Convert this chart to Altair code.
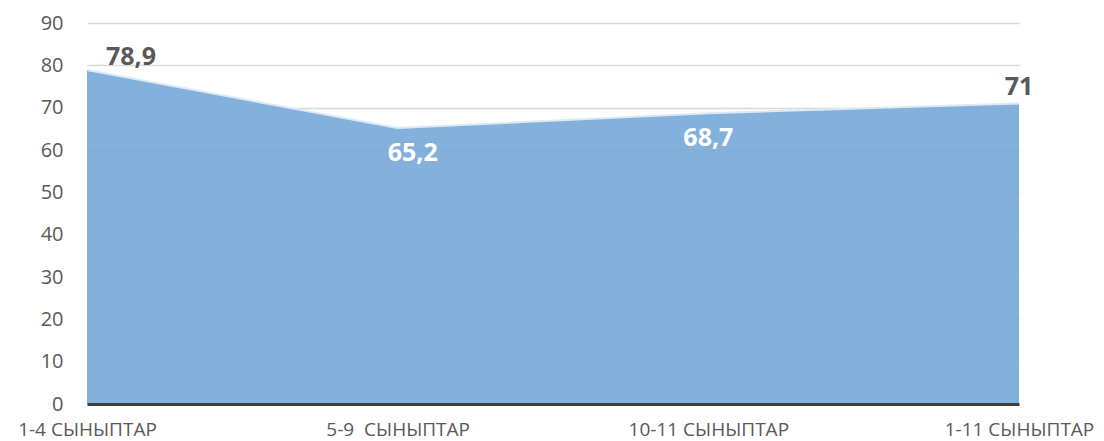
import altair as alt
import pandas as pd

categories = ["1-4 СЫНЫПТАР", "5-9\u00a0 СЫНЫПТАР", "10-11 СЫНЫПТАР", "1-11 СЫНЫПТАР"]
values = [78.9, 65.2, 68.7, 71]
labels = ["78,9", "65,2", "68,7", "71"]

df = pd.DataFrame({"cat": categories, "val": values, "lab": labels})

FONT = "Open Sans"

x_enc = alt.X("cat:N", sort=categories,
              scale=alt.Scale(type="point", padding=0),
              axis=alt.Axis(title=None, labelAngle=0, labelFontSize=19, labelColor="#595959",
                            labelFont=FONT, labelPadding=16, ticks=False, domain=True,
                            domainColor="#404040", domainWidth=3, zindex=1, grid=False))
y_enc = alt.Y("val:Q", scale=alt.Scale(domain=[0, 90], nice=False),
              axis=alt.Axis(title=None, values=list(range(0, 91, 10)), labelFontSize=20,
                            labelColor="#595959", labelFont=FONT, labelPadding=24,
                            ticks=False, domain=False, gridColor="#d9d9d9", gridWidth=1.5))

base = alt.Chart(df)

area = base.mark_area(color="#75a8d8", opacity=0.9,
                      line=alt.LineConfig(color="#dceaf7", strokeWidth=2)).encode(x=x_enc, y=y_enc)

offsets = [(44, -13, "#595959"), (15, 25, "#ffffff"), (0, 25, "#ffffff"), (0, -16, "#595959")]
layers = [area]
for i, (dx, dy, col) in enumerate(offsets):
    t = alt.Chart(df.iloc[[i]]).mark_text(font=FONT, fontSize=25, fontWeight="bold", color=col,
                                         dx=dx, dy=dy, baseline="middle", align="center").encode(
        x=alt.X("cat:N", sort=categories, scale=alt.Scale(type="point", padding=0)),
        y=alt.Y("val:Q", scale=alt.Scale(domain=[0, 90], nice=False)),
        text="lab:N")
    layers.append(t)

chart = alt.layer(*layers).properties(
    width=932, height=381,
    background="white",
    autosize=alt.AutoSizeParams(type="none"),
    padding={"left": 79, "top": 15, "right": 77, "bottom": 40},
).configure_view(stroke=None)

chart.save("out.html", embed_options={"renderer": "svg", "actions": False})
